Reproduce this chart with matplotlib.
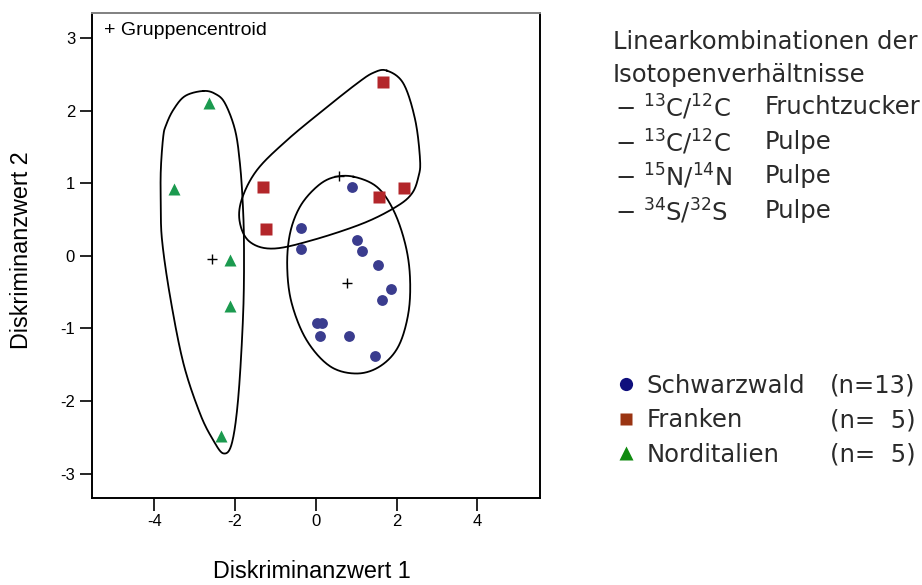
import numpy as np
import matplotlib
matplotlib.use("Agg")
import matplotlib.pyplot as plt
from matplotlib.lines import Line2D

plt.rcParams['font.family'] = ['Liberation Sans', 'DejaVu Sans']
plt.rcParams['axes.unicode_minus'] = False
plt.rcParams['mathtext.fontset'] = 'custom'
plt.rcParams['mathtext.rm'] = 'DejaVu Sans'
plt.rcParams['mathtext.default'] = 'regular'

# Diskriminanzwerte je Gruppe
schwarz_x = [0.89, -0.38, -0.36, 1.03, 1.15, 1.54, 1.86, 1.63, 0.02, 0.16, 0.09, 0.83, 1.47]
schwarz_y = [0.95, 0.39, 0.10, 0.22, 0.07, -0.13, -0.45, -0.61, -0.93, -0.92, -1.10, -1.10, -1.38]
franken_x = [1.65, -1.30, -1.23, 1.57, 2.19]
franken_y = [2.40, 0.95, 0.37, 0.81, 0.94]
nord_x = [-2.65, -3.51, -2.13, -2.13, -2.35]
nord_y = [2.11, 0.92, -0.06, -0.69, -2.48]

# Gruppencentroide
cent_x = [0.76, 0.57, -2.56]
cent_y = [-0.37, 1.10, -0.05]

# Umrisslinien der Gruppen (Stützpunkte)
schwarz_hull_x = [0.93, 1.51, 1.92, 2.21, 2.33, 2.29, 2.04, 1.59, 1.01, 0.35, -0.23, -0.60,
                  -0.71, -0.64, -0.39, 0.02, 0.43]
schwarz_hull_y = [1.09, 0.95, 0.63, 0.17, -0.29, -0.79, -1.25, -1.52, -1.62, -1.52, -1.16,
                  -0.65, -0.15, 0.31, 0.68, 0.95, 1.08]
franken_hull_x = [1.76, 2.17, 2.46, 2.58, 2.54, 2.38, 2.00, 1.18, -0.06, -1.05, -1.63, -1.88,
                  -1.84, -1.46, -0.72, 0.19, 1.01, 1.42]
franken_hull_y = [2.55, 2.37, 1.87, 1.32, 1.09, 0.86, 0.68, 0.45, 0.22, 0.10, 0.19, 0.45,
                  0.77, 1.18, 1.59, 2.01, 2.37, 2.52]
nord_hull_x = [-2.79, -3.24, -3.53, -3.71, -3.78, -3.84, -3.84, -3.81, -3.61, -3.28, -2.87,
               -2.55, -2.29, -2.08, -1.92, -1.80, -1.78, -1.81, -1.88, -2.00, -2.25, -2.49]
nord_hull_y = [2.27, 2.20, 2.01, 1.80, 1.64, 1.18, 0.72, 0.22, -0.56, -1.48, -2.17,
               -2.53, -2.72, -2.58, -1.94, -0.79, 0.13, 0.72, 1.27, 1.73, 2.10, 2.23]

groups = ['Schwarzwald', 'Franken', 'Norditalien']
counts = ['(n=13)', '(n=  5)', '(n=  5)']

info_lines = ['Linearkombinationen der', 'Isotopenverhältnisse']
ratios = [r'− $^{13}$C/$^{12}$C', r'− $^{13}$C/$^{12}$C', r'− $^{15}$N/$^{14}$N', r'− $^{34}$S/$^{32}$S']
sources = ['Fruchtzucker', 'Pulpe', 'Pulpe', 'Pulpe']


def closed_curve(xs, ys, n=24):
    # geschlossener Catmull-Rom-Spline durch die Stützpunkte
    pts = np.column_stack([xs, ys])
    m = len(pts)
    t = np.linspace(0, 1, n, endpoint=False)[:, None]
    segs = []
    for i in range(m):
        p0, p1, p2, p3 = pts[i - 1], pts[i], pts[(i + 1) % m], pts[(i + 2) % m]
        segs.append(0.5 * (2 * p1 + (-p0 + p2) * t + (2 * p0 - 5 * p1 + 4 * p2 - p3) * t ** 2
                           + (-p0 + 3 * p1 - 3 * p2 + p3) * t ** 3))
    segs.append(pts[:1])
    c = np.vstack(segs)
    return c[:, 0], c[:, 1]


fig = plt.figure(figsize=(9.22, 5.85), dpi=100)
ax = fig.add_axes([0.0995, 0.1492, 0.4862, 0.8294])

for hx, hy in [(schwarz_hull_x, schwarz_hull_y), (franken_hull_x, franken_hull_y),
               (nord_hull_x, nord_hull_y)]:
    cx, cy = closed_curve(hx, hy)
    ax.plot(cx, cy, color='black', lw=1.3)

ax.plot(schwarz_x, schwarz_y, 'o', ms=7.8, color='#3a3c8e', mec='none')
ax.plot(franken_x, franken_y, 's', ms=8, color='#b3262a', mec='none')
ax.plot(nord_x, nord_y, '^', ms=8.3, color='#1b9a4f', mec='none')
ax.plot(cent_x, cent_y, '+', ms=7, mew=1.0, color='black')

ax.set_xlim(-5.55, 5.55)
ax.set_ylim(-3.33, 3.35)
ax.set_xticks([-4, -2, 0, 2, 4])
ax.set_yticks([-3, -2, -1, 0, 1, 2, 3])
ax.tick_params(direction='out', length=9, width=1.2, labelsize=12, pad=3)
for s in ax.spines.values():
    s.set_linewidth(1.4)
ax.spines['top'].set_color('#808080')

ax.text(0.027, 0.962, '+ Gruppencentroid', transform=ax.transAxes, fontsize=14, va='center')

fig.text(312 / 922, 1 - 572 / 585, 'Diskriminanzwert 1', fontsize=16.8, ha='center', va='center')
fig.text(22 / 922, 1 - 250 / 585, 'Diskriminanzwert 2', fontsize=16.8, ha='center', va='center',
         rotation=90)

# Textblock rechts
right_font = 'DejaVu Sans'
txt_col = '#2a2a2a'
info_y = [42, 75]
for s, yy in zip(info_lines, info_y):
    fig.text(613 / 922, 1 - yy / 585, s, fontsize=17.5, family=right_font, va='center', color=txt_col)
ratio_y = [107, 142, 176, 211]
for r, src, yy in zip(ratios, sources, ratio_y):
    fig.text(615 / 922, 1 - yy / 585, r, fontsize=17.5, family=right_font, va='center', color=txt_col)
    fig.text(765 / 922, 1 - yy / 585, src, fontsize=17.5, family=right_font, va='center', color=txt_col)

# Legende
handles = [Line2D([], [], ls='none', marker='o', ms=9.5, color='#0f0f7d', mec='none'),
           Line2D([], [], ls='none', marker='s', ms=8, color='#9a3412', mec='none'),
           Line2D([], [], ls='none', marker='^', ms=9.5, color='#108a10', mec='none')]
leg = fig.legend(handles, groups, loc='upper left', bbox_to_anchor=(615 / 922, 1 - 374 / 585),
                 frameon=False, borderpad=0, borderaxespad=0, handlelength=0.9, handletextpad=0.4,
                 labelspacing=0.43, prop={'family': right_font, 'size': 17.5})
for t in leg.get_texts():
    t.set_color(txt_col)
blank = [Line2D([], [], ls='none') for _ in counts]
leg2 = fig.legend(blank, counts, loc='upper left', bbox_to_anchor=(830 / 922, 1 - 374 / 585),
                  frameon=False, borderpad=0, borderaxespad=0, handlelength=0, handletextpad=0,
                  labelspacing=0.43, prop={'family': right_font, 'size': 17.5})
for t in leg2.get_texts():
    t.set_color(txt_col)

fig.savefig('out.png', dpi=100)
